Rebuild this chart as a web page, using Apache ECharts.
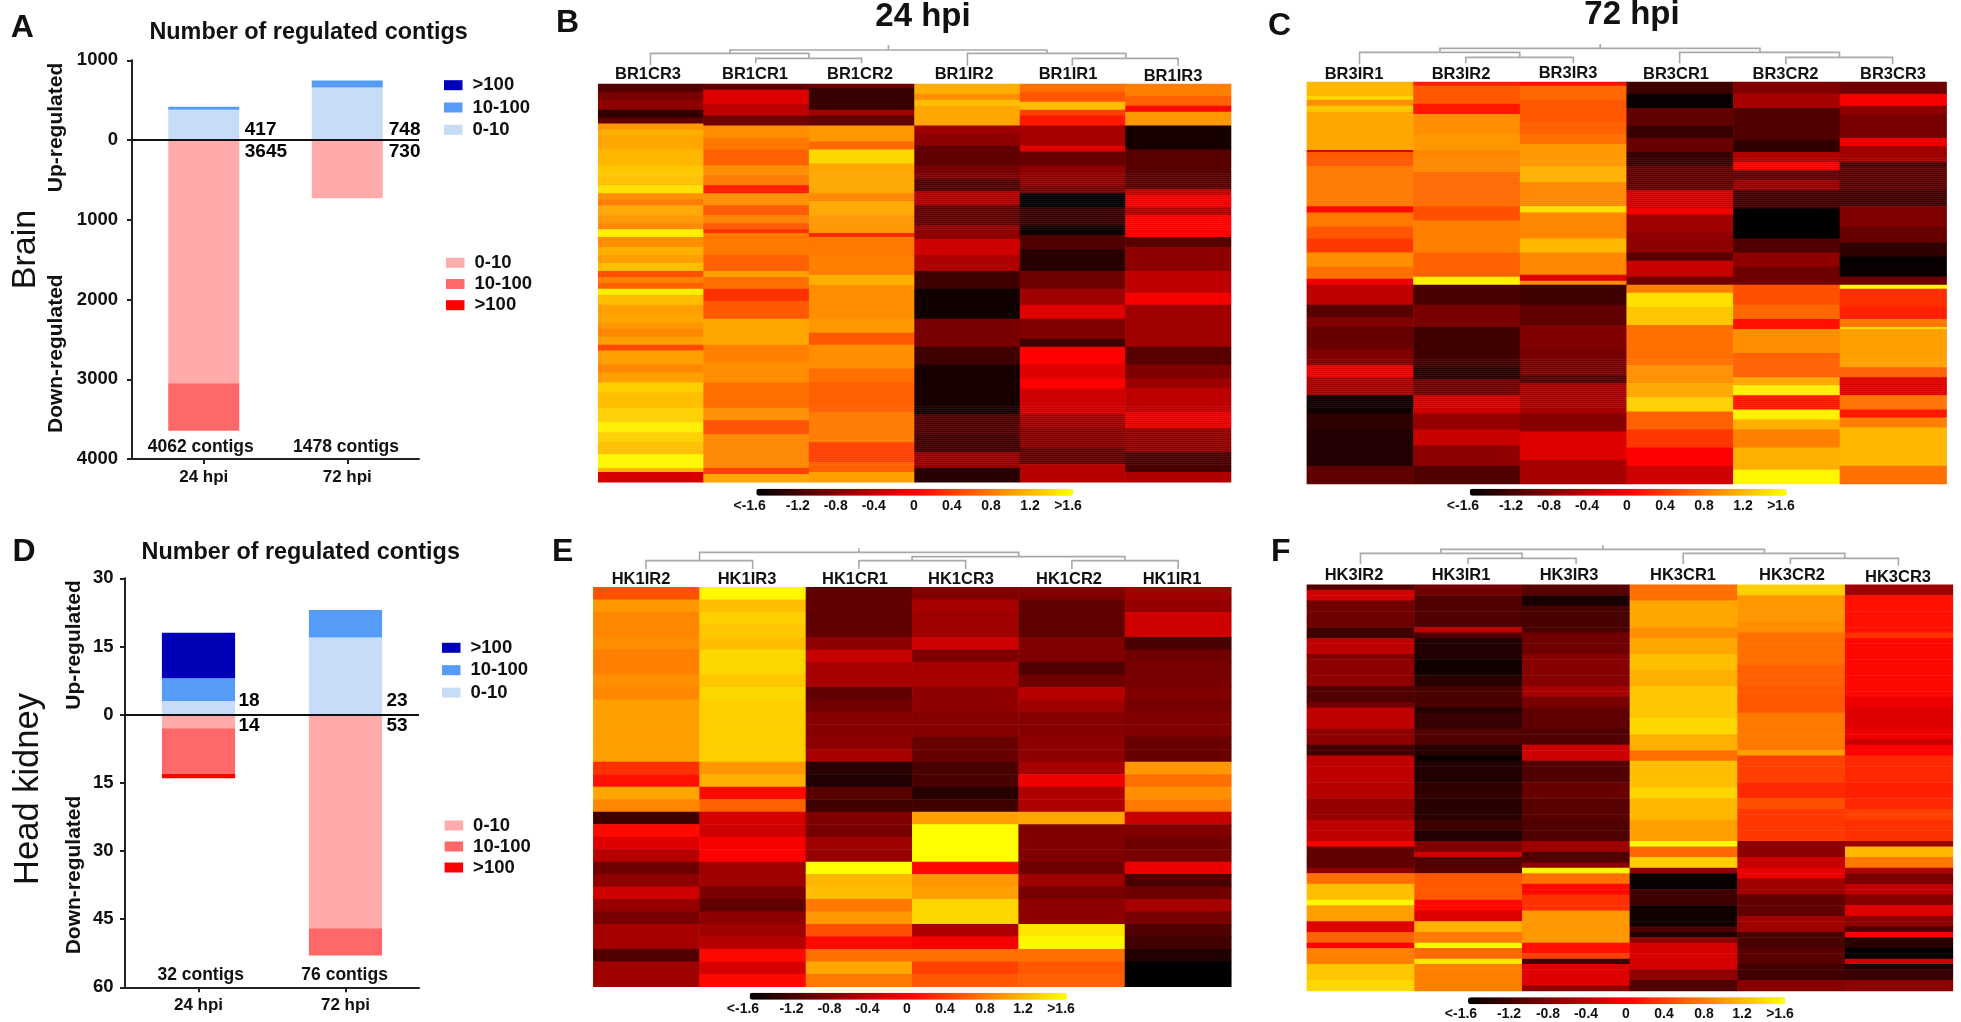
<!DOCTYPE html>
<html><head><meta charset="utf-8">
<style>html,body{margin:0;padding:0;background:#fff}#c{width:1961px;height:1022px}</style>
<script src="https://cdn.jsdelivr.net/npm/echarts@6/dist/echarts.min.js"></script>
</head><body><div id="c"></div>
<script>
// ---------- bar panels ----------
const hpi = ['24 hpi','72 hpi'];
const brainUpLow=[380,660], brainUpMid=[37,88], brainUpHigh=[0,0];
const brainDownLow=[-3050,-730], brainDownMid=[-595,0], brainDownHigh=[0,0];
const brainUpTotals=['417','748'], brainDownTotals=['3645','730'], brainContigs=['4062 contigs','1478 contigs'];
const kidneyUpLow=[3,17], kidneyUpMid=[5,6], kidneyUpHigh=[10,0];
const kidneyDownLow=[-3,-47], kidneyDownMid=[-10,-6], kidneyDownHigh=[-1,0];
const kidneyUpTotals=['18','23'], kidneyDownTotals=['14','53'], kidneyContigs=['32 contigs','76 contigs'];

// ---------- heatmap columns: runs of [last row (exclusive), value] ----------
const colsB=['BR1CR3','BR1CR1','BR1CR2','BR1IR2','BR1IR1','BR1IR3'];
const BR1CR3=[[4,-1.1],[8,-.85],[13,-.7],[17,-1.3],[20,-1],[23,.95],[26,1.1],[33,1.05],[41,1.15],[47,1.25],[51,1.2],[55,1.4],[58,.9],[61,.75],[66,1.05],[70,.95],[73,.85],[77,1.5],[82,.9],[86,1.1],[90,1],[94,1.2],[97,.5],[100,.8],[103,.6],[106,1.5],[111,1.2],[116,1],[120,1.05],[123,.95],[127,.85],[131,1],[134,.45],[141,1],[145,.85],[150,1],[155,1.3],[163,1.2],[170,1.3],[175,1.5],[180,1.3],[186,1.2],[193,1.55],[195,1.15],[200,-.25]];
const BR1CR1=[[3,-1],[10,-.2],[16,-.4],[21,-.9],[27,.9],[33,.75],[41,.6],[46,.9],[51,.75],[55,.15],[61,.9],[66,.55],[70,.8],[73,.55],[75,.3],[86,.75],[94,.6],[97,1],[103,.7],[109,.3],[118,.55],[131,1.05],[140,.8],[150,.9],[163,.7],[169,.9],[176,.5],[193,.85],[196,.4],[200,1.05]];
const BR1CR2=[[2,-.9],[13,-1.25],[16,-.6],[21,-1],[29,.95],[33,.65],[40,1.35],[55,1.05],[59,.85],[66,1.05],[75,.95],[77,.25],[86,.75],[96,.8],[101,1.1],[118,.9],[125,.95],[131,.55],[143,.9],[150,.7],[165,.6],[180,.75],[190,.4],[195,.6],[200,1]];
const BR1IR2=[[5,1.1],[8,.9],[11,1.2],[21,1.05],[25,-.6],[31,-.7],[41,-1],[48,-.85],[54,-1.1],[61,-.5],[71,-1],[78,-.7],[86,-.3],[94,-.5],[103,-1.2],[118,-1.5],[132,-.85],[141,-1.2],[166,-1.45],[176,-1.1],[185,-1.2],[193,-.65],[200,-1.35]];
const BR1IR1=[[4,.7],[9,.55],[13,1.2],[16,.4],[21,.15],[31,-.55],[34,-.2],[41,-.95],[51,-.7],[55,-.85],[62,-1.6],[71,-1.25],[76,-1.5],[83,-1.1],[94,-1.35],[103,-.9],[111,-.6],[118,-.2],[128,-.8],[132,-1.2],[141,0],[148,-.2],[153,0],[166,-.3],[173,-.6],[183,-.75],[191,-1],[200,-.45]];
const BR1IR3=[[6,.8],[11,.6],[14,.05],[21,.95],[33,-1.45],[53,-1.05],[56,-.4],[62,-.1],[66,-.5],[77,0],[82,-1.05],[94,-.7],[105,-.4],[111,-.05],[132,-.6],[141,-1.05],[148,-.8],[153,-.6],[165,-.4],[173,-.15],[185,-.7],[195,-1.15],[200,-.5]];

const colsC=['BR3IR1','BR3IR2','BR3IR3','BR3CR1','BR3CR2','BR3CR3'];
const BR3IR1=[[7,1.15],[9,1.35],[12,.9],[15,1.25],[34,1.05],[35,-.2],[42,.55],[62,.75],[65,.05],[72,.75],[78,.55],[85,.35],[92,.9],[98,.7],[101,-.1],[111,-.4],[117,-1.05],[122,-.8],[133,-.95],[141,-.8],[147,-.15],[156,-.55],[165,-1.5],[173,-1.3],[191,-1.4],[200,-1]];
const BR3IR2=[[2,.2],[11,.55],[16,.15],[26,.9],[34,.95],[45,.85],[62,.65],[69,.5],[85,.8],[97,.6],[101,1.5],[111,-1.15],[122,-.85],[142,-1.2],[148,-1.35],[156,-.9],[165,-.3],[173,-.65],[181,-.35],[191,-.7],[200,-1.1]];
const BR3IR3=[[2,.1],[9,.65],[20,.55],[26,.6],[31,.7],[42,.95],[50,1.1],[62,.85],[65,1.4],[78,.85],[85,1.15],[96,.85],[99,-.2],[101,.9],[111,-1.2],[121,-1],[133,-.8],[146,-.85],[150,-1.1],[165,-.55],[174,-.75],[188,-.2],[200,-.55]];
const BR3CR1=[[6,-1.2],[13,-1.55],[22,-1],[28,-1.25],[35,-.95],[42,-1.25],[54,-1],[63,-.3],[66,-.05],[75,-.6],[85,-.7],[89,-1.05],[97,-.35],[101,-.9],[105,.8],[112,1.4],[121,1.25],[141,.7],[150,.9],[157,1.05],[164,1.3],[173,.6],[182,.35],[191,0],[200,-.3]];
const BR3CR2=[[6,-.8],[13,-.55],[29,-1.1],[35,-1.3],[40,-.5],[44,-.05],[49,-1],[54,-.65],[63,-1.2],[78,-1.6],[85,-1.1],[92,-.7],[101,-.9],[111,.5],[118,.65],[123,.1],[135,.9],[147,.6],[151,1.05],[156,1.5],[163,.15],[168,1.5],[173,1.1],[182,.8],[193,1.1],[200,1.55]];
const BR3CR3=[[6,-.9],[12,-.05],[16,-.7],[28,-.85],[32,-.1],[40,-.6],[42,-1.2],[54,-1.05],[62,-1.2],[72,-.8],[80,-.95],[87,-1.3],[97,-1.55],[101,-.9],[103,1.55],[112,.3],[118,.2],[122,.75],[123,1.4],[142,1],[147,.6],[156,-.2],[163,.7],[167,.15],[172,.8],[191,1.15],[200,.7]];

const colsE=['HK1IR2','HK1IR3','HK1CR1','HK1CR3','HK1CR2','HK1IR1'];
const HK1IR2=[.5,.95,.85,.85,.9,.8,.8,.9,.85,1,1,1,1,1,.3,.1,1.05,.85,-1.2,.05,-.2,-.45,-.9,-.7,-.3,-.65,-.85,-.55,-.55,-1.1,-.6,-.6];
const HK1IR3=[1.55,1.2,1.3,1.25,1.2,1.35,1.35,1.25,1.35,1.3,1.3,1.3,1.3,1.3,.95,1.1,.05,.6,-.25,-.3,-.05,0,-.6,-.6,-.85,-1,-.7,-.6,-.45,.05,-.25,.05];
const HK1CR1=[-1,-1,-1,-1,-.7,-.35,-.55,-.55,-1,-.9,-.75,-.75,-.7,-.55,-1.35,-1.4,-1.05,-1.2,-.8,-.85,-.6,-.65,1.6,1.15,1.2,.75,.95,.5,.05,.7,1.05,.75];
const HK1CR3=[-.8,-.55,-.6,-.6,-.3,-.8,-.55,-.55,-.7,-.7,-.75,-.75,-.95,-.95,-1.15,-1.15,-1.35,-1.2,1,1.6,1.6,1.6,.05,.95,1,1.35,1.35,-.5,-.05,.7,.4,.55];
const HK1CR2=[-.8,-1,-1,-1,-.8,-.8,-1.1,-.9,-.45,-.6,-.75,-.75,-.7,-.7,-.55,-.1,-.5,-.5,1.05,-.8,-.8,-.8,-.9,-.6,-.85,-.7,-.7,1.45,1.55,.7,.55,.6];
const HK1IR1=[-.6,-.65,-.3,-.3,-1.15,-.9,-.85,-.85,-.8,-.85,-.8,-.8,-.95,-.95,.95,.7,.9,.75,-.35,-.8,-.9,-.85,-.1,-1.15,-.9,-.55,-.85,-1.1,-1.2,-1.4,-1.6,-1.6];

const colsF=['HK3IR2','HK3IR1','HK3IR3','HK3CR1','HK3CR2','HK3CR3'];
const HK3IR2=[[1,-1.1],[3,-.3],[8,-.9],[10,-1.2],[13,-.4],[14,-.8],[19,-.7],[22,-1.1],[23,-.9],[27,-.4],[30,-.7],[32,-1.2],[37,-.4],[40,-.45],[44,-.65],[48,-.4],[49,-.05],[53,-1],[54,-.7],[56,.7],[59,1.2],[60,1.55],[63,1],[65,-.2],[67,.6],[68,0],[71,.8],[74,1.25],[76,1.35]];
const HK3IR1=[[2,-.9],[8,-1.1],[9,-.4],[10,-1.1],[14,-1.4],[17,-1.5],[19,-1.35],[23,-1.15],[24,-1.4],[27,-1.25],[30,-1.1],[32,-1.35],[33,-1.55],[37,-1.4],[40,-1.3],[44,-1.35],[46,-1.2],[48,-1.4],[50,-.8],[51,-.3],[53,-1.1],[54,-1.05],[59,.55],[61,.05],[63,-.2],[65,1.1],[67,.75],[68,1.55],[70,.65],[71,1.45],[76,.8]];
const HK3IR3=[[2,-1.05],[4,-1.45],[9,-1.15],[13,-.9],[19,-.75],[21,-.55],[23,-.85],[27,-1],[30,-1.1],[33,-.3],[37,-1.1],[40,-.95],[44,-1.05],[48,-1.1],[50,-.6],[52,-1.1],[53,-.7],[54,1.55],[56,.7],[58,.05],[61,.3],[67,.95],[69,.1],[70,.4],[71,-1.2],[75,-.2],[76,-.7]];
const HK3CR1=[[3,.7],[8,1.05],[10,.9],[13,1.05],[16,1.2],[19,1.1],[25,1.25],[28,1.35],[31,1.1],[33,.7],[38,1.2],[40,1.35],[44,1.15],[48,1],[49,1.6],[51,.65],[53,1.3],[54,-.7],[57,-1.55],[60,-1.2],[64,-1.5],[65,-1.1],[66,-1.4],[67,-.7],[72,-.25],[74,-.7],[76,-1.1]];
const HK3CR2=[[2,1.3],[7,.95],[9,.9],[15,.7],[19,.6],[24,.55],[31,.75],[32,1],[37,.4],[40,.25],[42,.5],[48,.35],[51,-.7],[53,-.35],[55,-.15],[58,-.6],[62,-1],[65,-.6],[68,-1.15],[71,-1.05],[74,-1.2],[76,-.75]];
const HK3CR3=[[2,-.6],[9,.1],[10,.3],[21,.05],[23,-.1],[27,-.2],[29,-.1],[30,-.35],[32,0],[37,.25],[40,.2],[42,.25],[44,.4],[48,.3],[49,-.6],[51,1.15],[53,.75],[54,-.5],[56,-.85],[58,-.4],[60,-.75],[62,-.2],[64,-.7],[65,-1.1],[66,0],[68,-1.35],[70,-1.6],[71,-.3],[72,-1.4],[74,-1.25],[76,-.7]];

const barTicks=['<-1.6','-1.2','-0.8','-0.4','0','0.4','0.8','1.2','>1.6'];
const heatColors=['#000000','#ff0000','#ffff00'];

// ---------- helpers ----------
const FONT='"Liberation Sans", Arial, sans-serif';
const INK='#111';
function expand(runs){const o=[];let r=0;for(const [end,v] of runs){while(r<end){o.push(v);r++}}return o}
function cells(cols){const o=[];cols.forEach((c,x)=>c.forEach((v,y)=>o.push([x,y,v])));return o}
const gfx=[];
function text(x,y,s,size,o={}){
  gfx.push({type:'text',x,y,rotation:o.rot||0,silent:true,style:{text:s,x:0,y:0,
    font:(o.normal?'normal':'bold')+' '+size+'px '+FONT,fill:o.fill||INK,
    align:o.align||'center',textAlign:o.align||'center',verticalAlign:'middle',textVerticalAlign:'middle'}});
}
function dendro(ox,oy,polys){
  polys.forEach(p=>gfx.push({type:'polyline',silent:true,
    shape:{points:p.map(q=>[ox+q[0]/2.24,oy+q[1]/3])},
    style:{stroke:'#a9a9a9',lineWidth:1.6,fill:null}}));
}

const grid=[],xAxis=[],yAxis=[],series=[],legend=[],visualMap=[];
const C={upH:'#0000b8',upM:'#559cf8',upL:'#c6dcf7',dnL:'#ffabab',dnM:'#ff6868',dnH:'#ff0000'};

function barPanel(box,yMin,yMax,step,d,bw,lab){
  const g=grid.length;
  grid.push({left:box[0],top:box[1],width:box[2],height:box[3]});
  const line={lineStyle:{color:'#222',width:2}};
  xAxis.push({gridIndex:g,type:'category',data:hpi,position:'bottom',
    axisLine:{show:true,onZero:false,...line},
    axisTick:{show:true,alignWithLabel:true,length:5,lineStyle:{color:'#222',width:2}},
    axisLabel:{color:INK,fontFamily:FONT,fontWeight:'bold',fontSize:17,margin:10}});
  yAxis.push({gridIndex:g,type:'value',min:yMin,max:yMax,interval:step,splitLine:{show:false},
    axisLine:{show:true,...line},axisTick:{show:true,length:5,lineStyle:{color:'#222',width:2}},
    axisLabel:{color:INK,fontFamily:FONT,fontWeight:'bold',fontSize:18.5,margin:lab.margin,formatter:v=>String(Math.abs(v))}});
  const add=(name,data,color,extra)=>series.push({type:'bar',name,data,xAxisIndex:g,yAxisIndex:g,stack:'s'+g,barWidth:bw,
    itemStyle:{color},silent:true,...extra});
  add('Up 0-10',d.upL,C.upL,{markLine:{silent:true,symbol:'none',label:{show:false},animation:false,
    lineStyle:{color:'#111',width:2,type:'solid'},data:[{yAxis:0}]}});
  add('Up 10-100',d.upM,C.upM);
  add('Up >100',d.upH,C.upH);
  add('Down 0-10',d.dnL,C.dnL);
  add('Down 10-100',d.dnM,C.dnM);
  add('Down >100',d.dnH,C.dnH);
  const pts=[];
  hpi.forEach((h,i)=>{
    const lbl=(t,dy)=>({value:[h,0],label:{show:true,formatter:t,position:[lab.dx[i],dy],align:'left',verticalAlign:'middle',
      color:'#000',opacity:1,textBorderWidth:0,fontFamily:FONT,fontWeight:'bold',fontSize:19}});
    pts.push(lbl(d.upT[i],lab.dyUp),lbl(d.dnT[i],lab.dyDn));
  });
  series.push({type:'scatter',name:'totals',xAxisIndex:g,yAxisIndex:g,symbolSize:1,itemStyle:{color:'transparent',opacity:1},silent:true,data:pts,z:5});
}
function legendBlock(names,left,top,gap){
  legend.push({data:names,orient:'vertical',left,top,padding:0,itemWidth:18.5,itemHeight:10,itemGap:gap,icon:'rect',selectedMode:false,
    formatter:n=>n.replace(/^(Up|Down) /,''),
    textStyle:{color:INK,fontFamily:FONT,fontWeight:'bold',fontSize:18.5,lineHeight:14,padding:[0,0,0,5]}});
}
function heat(box,names,cols,cb){
  const g=grid.length;
  grid.push({left:box[0],top:box[1],width:box[2]-box[0],height:box[3]-box[1]});
  xAxis.push({gridIndex:g,type:'category',data:names,show:false});
  yAxis.push({gridIndex:g,type:'category',data:cols[0].map((_,i)=>i),inverse:true,show:false});
  series.push({type:'heatmap',name:names[0],xAxisIndex:g,yAxisIndex:g,data:cells(cols),silent:true,progressive:0});
  visualMap.push({type:'continuous',seriesIndex:series.length-1,dimension:2,min:-1.6,max:1.6,orient:'horizontal',calculable:false,
    left:cb.x0,top:cb.y0,itemWidth:7,itemHeight:cb.x1-cb.x0,padding:0,text:null,showLabel:false,inRange:{color:heatColors},
    textStyle:{color:'transparent',fontSize:1},hoverLink:false});
  barTicks.forEach((t,i)=>text(cb.tx[i],cb.ty,t,14));
  names.forEach((n,i)=>text(cb.nx[i],cb.ny[i],n,16.5));
}

// ---------- A / D ----------
barPanel([132,60.3,287,398.7],-4000,1000,1000,
  {upL:brainUpLow,upM:brainUpMid,upH:brainUpHigh,dnL:brainDownLow,dnM:brainDownMid,dnH:brainDownHigh,upT:brainUpTotals,dnT:brainDownTotals},
  '49.5%',{margin:14,dx:[41.5,42],dyUp:-10,dyDn:12});
barPanel([125,578.3,294,409],-60,30,15,
  {upL:kidneyUpLow,upM:kidneyUpMid,upH:kidneyUpHigh,dnL:kidneyDownLow,dnM:kidneyDownMid,dnH:kidneyDownHigh,upT:kidneyUpTotals,dnT:kidneyDownTotals},
  '49.8%',{margin:11.5,dx:[40.5,41.5],dyUp:-13,dyDn:12});
const upOrder=['Up >100','Up 10-100','Up 0-10'], downOrder=['Down 0-10','Down 10-100','Down >100'];
legendBlock(upOrder,444,75.7,3.3);
legendBlock(downOrder,446,253.3,2.2);
legendBlock(upOrder,442,638.3,3.4);
legendBlock(downOrder,444.6,816,2);

brainContigs.forEach((t,i)=>text([200.7,346][i],446.7,t,17.5));
kidneyContigs.forEach((t,i)=>text([200.7,344.6][i],974.8,t,17.5));
text(308.6,33,'Number of regulated contigs',23.4);
text(300.7,552.3,'Number of regulated contigs',23.4);
text(56.5,127.5,'Up-regulated',21,{rot:Math.PI/2});
text(56.5,353.7,'Down-regulated',21,{rot:Math.PI/2});
text(74,645,'Up-regulated',21,{rot:Math.PI/2});
text(74,875,'Down-regulated',21,{rot:Math.PI/2});
text(26,249.5,'Brain',34,{rot:Math.PI/2,normal:true});
text(28,789,'Head kidney',34.5,{rot:Math.PI/2,normal:true});
[['A',10.7,28],['B',556,23],['C',1268,26],['D',12.5,552],['E',552,552],['F',1271,552]]
  .forEach(p=>text(p[1],p[2],p[0],32,{align:'left'}));
text(923,17,'24 hpi',33);
text(1632,15,'72 hpi',33);

// ---------- B C E F ----------
heat([598.2,84,1231,482.3],colsB,[BR1CR3,BR1CR1,BR1CR2,BR1IR2,BR1IR1,BR1IR3].map(expand),
 {x0:756.3,x1:1073,y0:488.7,ty:505.7,tx:[749.6,797.8,835.7,873.7,913.8,951.8,991,1030,1068],
  nx:[648,755,860,964,1068,1173],ny:[74.7,74.7,74.7,74.7,74.7,76]});
heat([1306.9,82,1946.6,484],colsC,[BR3IR1,BR3IR2,BR3IR3,BR3CR1,BR3CR2,BR3CR3].map(expand),
 {x0:1469.8,x1:1786.8,y0:488.7,ty:505.7,tx:[1463,1511,1549,1587,1627,1665,1704,1743,1781],
  nx:[1354,1461,1568,1676,1785.5,1893],ny:[74.7,74.7,73.3,74.7,74.7,74.7]});
heat([593.3,587.3,1231.3,986.7],colsE,[HK1IR2,HK1IR3,HK1CR1,HK1CR3,HK1CR2,HK1IR1],
 {x0:749.6,x1:1067,y0:992.7,ty:1009.3,tx:[743,791.5,829.5,867.4,907,945,985,1023,1061],
  nx:[641,747,855,961,1069,1172],ny:[579,579,579,579,579,579]});
heat([1306.9,584.7,1952.9,991],colsF,[HK3IR2,HK3IR1,HK3IR3,HK3CR1,HK3CR2,HK3CR3].map(expand),
 {x0:1468,x1:1785,y0:997.3,ty:1014.3,tx:[1461,1509,1548,1586,1626,1664,1704,1742,1780],
  nx:[1354,1461,1569,1683,1792,1898],ny:[575.7,575.7,575.7,575.7,575.7,577.3]});

dendro(550,0,[[[758,135],[758,150]],[[225,195],[225,160],[580,160],[580,175]],[[403,160],[403,150],[1113,150],[1113,160]],
 [[461,190],[461,175],[698,175],[698,190]],[[935,197],[935,160],[1290,160],[1290,175]],[[1170,197],[1170,175],[1407,175],[1407,197]]]);
dendro(1260,0,[[[762,132],[762,145]],[[223,193],[223,157],[582,157],[582,172]],[[403,157],[403,145],[1120,145],[1120,157]],
 [[461,190],[461,172],[702,172],[702,190]],[[940,190],[940,157],[1298,157],[1298,172]],[[1178,193],[1178,172],[1417,172],[1417,193]]]);
dendro(550,520,[[[692,85],[692,97]],[[335,122],[335,97],[1050,97],[1050,110]],[[215,147],[215,122],[454,122],[454,147]],
 [[811,122],[811,110],[1288,110],[1288,122]],[[692,147],[692,122],[931,122],[931,147]],[[1169,147],[1169,122],[1407,122],[1407,147]]]);
dendro(1260,520,[[[768,75],[768,88]],[[405,100],[405,88],[1130,88],[1130,100]],[[225,132],[225,100],[587,100],[587,115]],
 [[466,132],[466,115],[708,115],[708,132]],[[948,132],[948,100],[1310,100],[1310,115]],[[1188,132],[1188,115],[1430,115],[1430,137]]]);

const chart=echarts.init(document.getElementById('c'),null,{renderer:'canvas',width:1961,height:1022});
chart.setOption({animation:false,backgroundColor:'#fff',grid,xAxis,yAxis,series,legend,visualMap,graphic:{elements:gfx}});
</script></body></html>
